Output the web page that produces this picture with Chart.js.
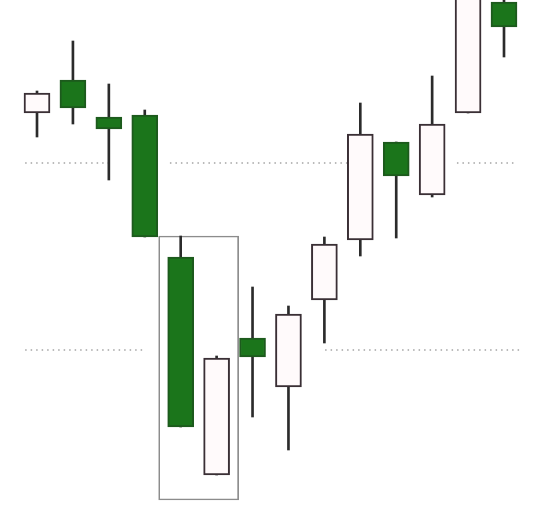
<!DOCTYPE html>
<html>
<head>
<meta charset="utf-8">
<script src="https://cdn.jsdelivr.net/npm/chart.js@4/dist/chart.umd.min.js"></script>
<style>
  html, body { margin: 0; padding: 0; background: #ffffff; }
  #wrap { width: 548px; height: 516px; position: relative; }
</style>
</head>
<body>
<div id="wrap"><canvas id="c"></canvas></div>
<script>
// Candle data (index 0..13)
const candleIndex = [0, 1, 2, 3, 4, 5, 6, 7, 8, 9, 10, 11, 12, 13];
const openValues  = [40.3, 43.6, 39.9, 40.1, 25.9, 4.1, 17.8, 12.9, 21.6, 27.6, 37.4, 32.1, 40.3, 51.4];
const highValues  = [42.5, 47.5, 43.2, 40.6, 28.0, 16.0, 22.9, 21.0, 27.9, 41.3, 37.4, 44.0, 54.0, 51.6];
const lowValues   = [37.9, 39.2, 33.6, 27.9, 8.9, 4.1, 9.9, 6.6, 17.3, 26.0, 27.8, 31.9, 40.3, 45.9];
const closeValues = [42.3, 40.8, 38.7, 27.9, 8.9, 15.8, 15.9, 20.2, 27.2, 38.2, 34.0, 39.2, 53.0, 48.9];

// Highlight box around candles 5 and 6
const boxCenterIndex = [4.5];
const boxRange = [[1.6, 28.0]];

// Dotted level lines: level and segments of index ranges
const levelA = 35.3;
const levelASegments = [[-0.33, 2.09], [3.70, 8.85], [11.69, 13.36]];
const levelB = 16.6;
const levelBSegments = [[-0.33, 3.0], [8.02, 13.47]];

const UP_FILL = '#fffafb', UP_BORDER = '#3a2f35';
const DOWN_FILL = '#1b751b', DOWN_BORDER = '#1d5a1d';

const isUp = candleIndex.map(i => closeValues[i] >= openValues[i]);

function segData(level, segs) {
  const out = [];
  segs.forEach((s, k) => {
    if (k > 0) out.push({x: (segs[k-1][1] + s[0]) / 2, y: null});
    out.push({x: s[0], y: level});
    out.push({x: s[1], y: level});
  });
  return out;
}

new Chart(document.getElementById('c'), {
  type: 'bar',
  data: {
    datasets: [
      {
        label: 'body',
        order: 0,
        grouped: false,
        data: candleIndex.map(i => ({x: i, y: [openValues[i], closeValues[i]]})),
        backgroundColor: isUp.map(u => u ? UP_FILL : DOWN_FILL),
        borderColor: isUp.map(u => u ? UP_BORDER : DOWN_BORDER),
        borderWidth: 2,
        borderSkipped: false,
        barThickness: 26
      },
      {
        label: 'wick',
        order: 1,
        grouped: false,
        data: candleIndex.map(i => ({x: i, y: [lowValues[i], highValues[i]]})),
        backgroundColor: '#2b2b2b',
        borderWidth: 0,
        barThickness: 2
      },
      {
        label: 'box',
        order: 2,
        grouped: false,
        data: boxCenterIndex.map((c, k) => ({x: c, y: boxRange[k]})),
        backgroundColor: 'rgba(0,0,0,0)',
        borderColor: '#8c8c8c',
        borderWidth: 1,
        borderSkipped: false,
        barThickness: 80
      },
      {
        type: 'line',
        label: 'levelA',
        order: 3,
        data: segData(levelA, levelASegments),
        borderColor: '#a4a4a4',
        borderWidth: 1.5,
        borderDash: [1.5, 4],
        pointRadius: 0,
        spanGaps: false
      },
      {
        type: 'line',
        label: 'levelB',
        order: 3,
        data: segData(levelB, levelBSegments),
        borderColor: '#a4a4a4',
        borderWidth: 1.5,
        borderDash: [1.5, 4],
        pointRadius: 0,
        spanGaps: false
      }
    ]
  },
  options: {
    responsive: true,
    maintainAspectRatio: false,
    animation: false,
    devicePixelRatio: 1,
    layout: { padding: 0 },
    plugins: { legend: { display: false }, tooltip: { enabled: false } },
    scales: {
      x: { type: 'linear', min: -1.03, max: 14.225, offset: false, display: false },
      y: { type: 'linear', min: 0, max: 51.6, display: false }
    }
  }
});
</script>
</body>
</html>
